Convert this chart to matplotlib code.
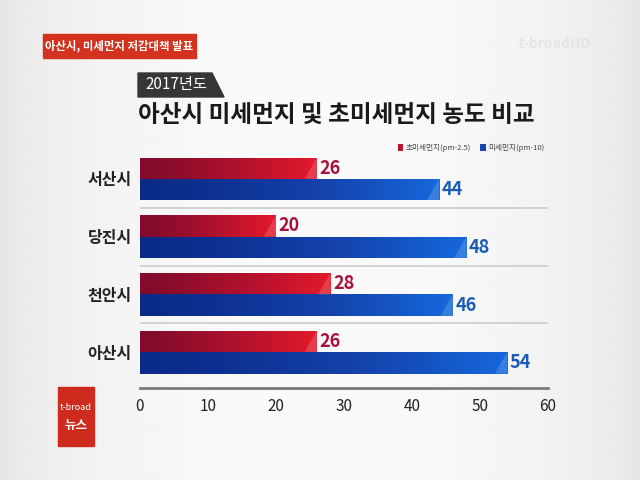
import numpy as np
import matplotlib.pyplot as plt
from matplotlib.patches import Rectangle, Polygon
from matplotlib.colors import LinearSegmentedColormap

plt.rcParams['font.family'] = ['Noto Sans CJK KR', 'DejaVu Sans']

# 데이터
cities = ['서산시', '당진시', '천안시', '아산시']
pm25 = [26, 20, 28, 26]
pm10 = [44, 48, 46, 54]
series_names = ['초미세먼지(pm-2.5)', '미세먼지(pm-10)']
x_ticks = [0, 10, 20, 30, 40, 50, 60]

title = '아산시 미세먼지 및 초미세먼지 농도 비교'
year_tag = '2017년도'
banner = '아산시, 미세먼지 저감대책 발표'

red_cmap = LinearSegmentedColormap.from_list('r', ['#820b2b', '#b5122e', '#e4192a'])
blue_cmap = LinearSegmentedColormap.from_list('b', ['#0a2a88', '#1442aa', '#1668dc'])

fig = plt.figure(figsize=(6.4, 4.8), dpi=100)
fig.patch.set_facecolor('#f2f2f2')

# 배경 그라데이션
bg = fig.add_axes([0, 0, 1, 1], zorder=-10)
grad = np.linspace(0, 1, 256)
bg_vals = 0.90 + 0.08 * np.sin(np.pi * grad) ** 0.6
bg.imshow(np.tile(bg_vals, (10, 1)), cmap='gray', vmin=0, vmax=1,
          aspect='auto', extent=[0, 1, 0, 1])
bg.set_axis_off()

ax = fig.add_axes([0.21875, 0.1917, 0.6375, 0.4958])
ax.set_facecolor('none')

y = np.arange(len(cities))
h = 0.37
red_bars = ax.barh(y - h / 2, pm25, height=h, color='#c0122e', label=series_names[0])
blue_bars = ax.barh(y + h / 2, pm10, height=h, color='#1447b5', label=series_names[1])

# 막대 그라데이션
for bars, cmap in [(red_bars, red_cmap), (blue_bars, blue_cmap)]:
    for b in bars:
        x0, y0 = b.get_x(), b.get_y()
        w, hh = b.get_width(), b.get_height()
        g = np.linspace(0, 1, 200) ** 1.3
        im = ax.imshow(g[np.newaxis, :], cmap=cmap, aspect='auto',
                       extent=[x0, x0 + w, y0 + hh, y0], zorder=2)
        im.set_clip_path(b)
        # 끝 부분 밝은 삼각형
        tri = Polygon([[x0 + w - 1.8, y0 + hh], [x0 + w, y0], [x0 + w, y0 + hh]],
                      closed=True, color='white', alpha=0.16, zorder=3, lw=0)
        ax.add_patch(tri)

# 값 라벨
for i in range(len(cities)):
    ax.text(pm25[i] + 0.4, y[i] - h / 2, str(pm25[i]), color='#a8123a',
            fontsize=13, va='center', ha='left', fontweight='bold')
    ax.text(pm10[i] + 0.4, y[i] + h / 2, str(pm10[i]), color='#1a5cb8',
            fontsize=13, va='center', ha='left', fontweight='bold')

# 구분선
for i in range(len(cities) - 1):
    ax.axhline(i + 0.5, color='#cccccc', lw=1.2, zorder=1)

ax.set_xlim(0, 60)
ax.set_ylim(3.62, -0.5)
ax.set_xticks(x_ticks)
ax.set_xticklabels([str(t) for t in x_ticks], fontsize=11, color='#222222')
ax.set_yticks(y)
ax.set_yticklabels(cities, fontsize=11.5, fontweight='bold', color='#222222')
ax.tick_params(length=0, pad=6)
ax.tick_params(axis='x', pad=7)
for s in ['top', 'right', 'left']:
    ax.spines[s].set_visible(False)
ax.spines['bottom'].set_color('#7a7a7a')
ax.spines['bottom'].set_linewidth(2)

leg = ax.legend(loc='lower right', bbox_to_anchor=(1.0, 0.975), ncol=2, frameon=False,
                fontsize=5.5, handlelength=0.7, handleheight=0.9, handletextpad=0.3,
                columnspacing=1.2, borderpad=0, labelcolor='#444444')

# 제목
fig.text(138 / 640, 1 - 115 / 480, title, fontsize=17, fontweight='bold',
         color='#1a1a1a', va='center', ha='left')

# 연도 태그
tag = Polygon([[138 / 640, 1 - 73 / 480], [212 / 640, 1 - 73 / 480],
               [224 / 640, 1 - 97 / 480], [138 / 640, 1 - 97 / 480]],
              closed=True, transform=fig.transFigure, color='#363636')
fig.patches.append(tag)
fig.text(145 / 640, 1 - 85 / 480, year_tag, fontsize=11, color='white',
         va='center', ha='left')

# 상단 배너
fig.patches.append(Rectangle((43 / 640, 1 - 58 / 480), 153 / 640, 24 / 480,
                             transform=fig.transFigure, color='#d2321e'))
fig.text(119.5 / 640, 1 - 46 / 480, banner, fontsize=8.2, fontweight='bold',
         color='white', va='center', ha='center')

# 로고
fig.text(555 / 640, 1 - 44 / 480, 't-broadHD', fontsize=10, color='#e4e4e4',
         va='center', ha='center', fontweight='bold')
fig.patches.append(Rectangle((58 / 640, 1 - 446 / 480), 36 / 640, 59 / 480,
                             transform=fig.transFigure, color='#cf2a1e'))
fig.text(76 / 640, 1 - 408 / 480, 't-broad', fontsize=6.5, color='white',
         va='center', ha='center')
fig.text(76 / 640, 1 - 425 / 480, '뉴스', fontsize=9, color='white',
         va='center', ha='center', fontweight='bold')

fig.savefig('out.png', dpi=100, facecolor=fig.get_facecolor())
